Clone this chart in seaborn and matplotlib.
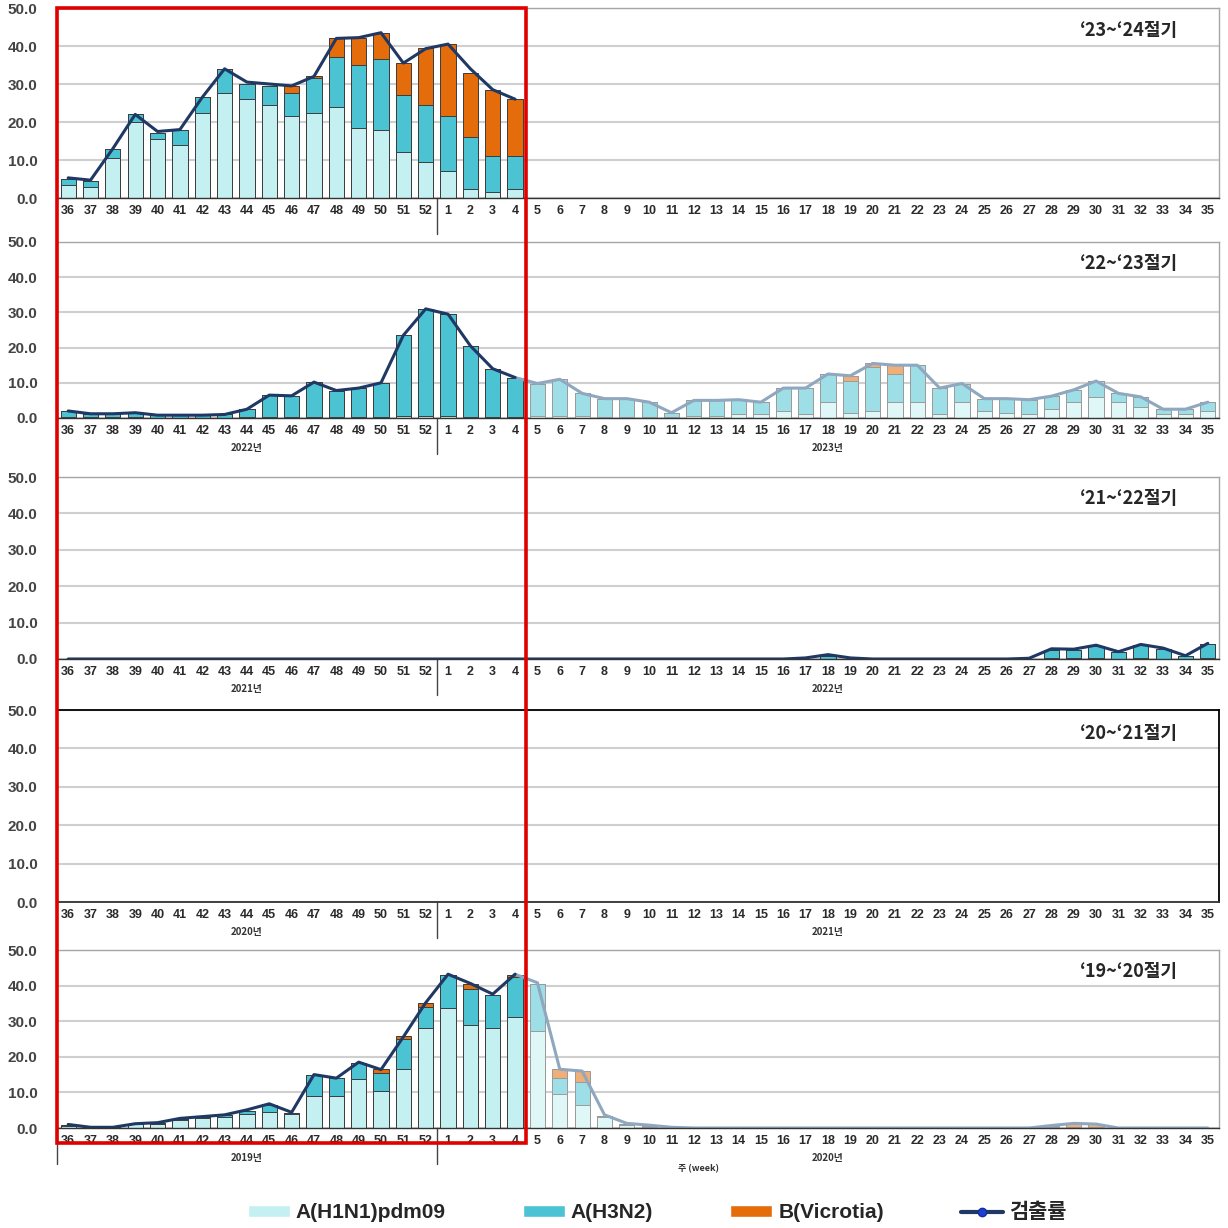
import numpy as np
import pandas as pd
import matplotlib.pyplot as plt
import matplotlib.colors as mcolors
from matplotlib.patches import Patch, Rectangle
from matplotlib.lines import Line2D
from matplotlib.ticker import FormatStrFormatter
import seaborn as sns

# week axis: 36..52 then 1..35
weeks = [str(w) for w in list(range(36, 53)) + list(range(1, 36))]

# '23~'24 season (only weeks 36..4 reported)
h1_2324 = [3.5, 3.0, 10.5, 20.0, 15.5, 14.0, 22.5, 27.5, 26.0, 24.5, 21.5, 22.5, 24.0, 18.5, 18.0, 12.0, 9.5,
           7.0, 2.5, 1.5, 2.5]
h3_2324 = [1.5, 1.5, 2.5, 2.0, 1.5, 4.0, 4.0, 6.5, 4.0, 5.0, 6.0, 9.0, 13.0, 16.5, 18.5, 15.0, 15.0,
           14.5, 13.5, 9.5, 8.5]
b_2324 = [0, 0, 0, 0, 0, 0, 0, 0, 0, 0, 2.0, 0.5, 5.0, 7.0, 7.0, 8.5, 15.0,
          19.0, 17.0, 17.5, 15.0]
rate_2324 = [5.3, 4.7, 13.0, 22.0, 17.5, 18.0, 26.5, 34.0, 30.5, 30.0, 29.5, 32.0, 42.0, 42.2, 43.5, 35.5, 39.3,
             40.5, 34.0, 28.5, 26.0]

# '22~'23 season
h1_2223 = [0.3, 0.2, 0.2, 0.2, 0.1, 0.1, 0.1, 0.1, 0.2, 0.3, 0.3, 0.4, 0.3, 0.3, 0.3, 0.5, 0.6,
           0.5, 0.4, 0.3, 0.3, 0.5, 0.5, 0.5, 0.3, 0.3, 0.3, 0.2, 0.5, 0.5, 1.0, 1.0, 2.0, 1.0, 4.5, 1.5,
           2.0, 4.5, 4.5, 1.0, 4.5, 2.0, 1.5, 1.0, 2.5, 4.5, 6.0, 4.5, 3.0, 1.0, 1.0, 2.0]
h3_2223 = [1.7, 1.0, 1.0, 1.3, 0.7, 0.7, 0.7, 0.9, 2.3, 6.2, 6.0, 9.8, 7.5, 8.2, 9.7, 23.0, 30.4,
           29.0, 20.1, 13.7, 11.2, 9.3, 10.5, 6.5, 5.2, 5.2, 4.2, 1.3, 4.5, 4.5, 4.2, 3.5, 6.5, 7.5, 8.0, 9.0,
           12.5, 8.0, 10.5, 7.5, 5.3, 3.5, 4.0, 4.2, 3.7, 3.5, 4.5, 2.5, 3.0, 1.5, 1.5, 2.5]
b_2223 = [0, 0, 0, 0, 0, 0, 0, 0, 0, 0, 0, 0, 0, 0, 0, 0, 0,
          0, 0, 0, 0, 0, 0, 0, 0, 0, 0, 0, 0, 0, 0, 0, 0, 0, 0, 1.5,
          1.0, 2.5, 0, 0, 0, 0, 0, 0, 0, 0, 0, 0, 0, 0, 0, 0]
rate_2223 = [2.0, 1.2, 1.2, 1.5, 0.8, 0.8, 0.8, 1.0, 2.5, 6.5, 6.3, 10.2, 7.8, 8.5, 10.0, 23.5, 31.0,
             29.5, 20.5, 14.0, 11.5, 9.8, 11.0, 7.0, 5.5, 5.5, 4.5, 1.5, 5.0, 5.0, 5.2, 4.5, 8.5, 8.5, 12.5, 12.0,
             15.5, 15.0, 15.0, 8.5, 9.8, 5.5, 5.5, 5.2, 6.2, 8.0, 10.5, 7.0, 6.0, 2.5, 2.5, 4.5]

# '21~'22 season
h1_2122 = [0, 0, 0, 0, 0, 0, 0, 0, 0, 0, 0, 0, 0, 0, 0, 0, 0,
           0, 0, 0, 0, 0, 0, 0, 0, 0, 0, 0, 0, 0, 0, 0, 0, 0, 0, 0,
           0, 0, 0, 0, 0, 0, 0, 0, 0.2, 0.2, 0.2, 0.1, 0.2, 0.1, 0.1, 0.2]
h3_2122 = [0, 0, 0, 0, 0, 0, 0, 0, 0, 0, 0, 0, 0, 0, 0, 0, 0,
           0, 0, 0, 0, 0, 0, 0, 0, 0, 0, 0, 0, 0, 0, 0, 0, 0, 0.8, 0,
           0, 0, 0, 0, 0, 0, 0, 0, 2.3, 2.2, 3.4, 1.7, 3.6, 2.7, 0.6, 3.9]
b_2122 = [0, 0, 0, 0, 0, 0, 0, 0, 0, 0, 0, 0, 0, 0, 0, 0, 0,
          0, 0, 0, 0, 0, 0, 0, 0, 0, 0, 0, 0, 0, 0, 0, 0, 0, 0, 0,
          0, 0, 0, 0, 0, 0, 0, 0, 0, 0, 0, 0, 0, 0, 0, 0]
rate_2122 = [0, 0, 0, 0, 0, 0, 0, 0, 0, 0, 0, 0, 0, 0, 0, 0, 0,
             0, 0, 0, 0, 0, 0, 0, 0, 0, 0, 0, 0, 0, 0, 0, 0, 0.3, 1.2, 0.3,
             0, 0, 0, 0, 0, 0, 0, 0.2, 2.8, 2.7, 3.8, 2.0, 4.0, 3.0, 0.9, 4.3]

# '20~'21 season (no detections)
h1_2021 = [0, 0, 0, 0, 0, 0, 0, 0, 0, 0, 0, 0, 0, 0, 0, 0, 0,
           0, 0, 0, 0, 0, 0, 0, 0, 0, 0, 0, 0, 0, 0, 0, 0, 0, 0, 0,
           0, 0, 0, 0, 0, 0, 0, 0, 0, 0, 0, 0, 0, 0, 0, 0]
h3_2021 = list(h1_2021)
b_2021 = list(h1_2021)
rate_2021 = list(h1_2021)

# '19~'20 season
h1_1920 = [0.5, 0.1, 0.1, 1.0, 1.2, 2.2, 2.8, 3.0, 4.0, 4.5, 4.0, 9.0, 9.0, 13.7, 10.3, 16.5, 28.0,
           33.7, 29.0, 28.0, 31.3, 27.2, 9.5, 6.5, 3.0, 0.8, 0.4, 0.1, 0, 0, 0, 0, 0, 0, 0, 0,
           0, 0, 0, 0, 0, 0, 0, 0, 0.2, 0.4, 0.3, 0, 0, 0, 0, 0]
h3_1920 = [0.4, 0.1, 0.1, 0.2, 0.3, 0.4, 0.4, 0.6, 0.9, 2.0, 0.3, 5.8, 5.0, 4.6, 5.2, 8.5, 6.0,
           9.3, 10.0, 9.5, 11.2, 13.3, 4.5, 6.5, 0.5, 0.3, 0.2, 0, 0, 0, 0, 0, 0, 0, 0, 0,
           0, 0, 0, 0, 0, 0, 0, 0, 0, 0, 0, 0, 0, 0, 0, 0]
b_1920 = [0, 0, 0, 0, 0, 0, 0, 0, 0, 0, 0, 0.2, 0, 0, 1.0, 0.8, 1.0,
          0, 1.5, 0, 0.5, 0, 2.5, 3.0, 0, 0, 0, 0, 0, 0, 0, 0, 0, 0, 0, 0,
          0, 0, 0, 0, 0, 0, 0, 0, 0.4, 0.8, 0.7, 0, 0, 0, 0, 0]
rate_1920 = [1.0, 0.2, 0.2, 1.2, 1.5, 2.7, 3.2, 3.7, 5.1, 6.8, 4.4, 15.0, 14.0, 18.5, 16.4, 25.6, 35.2,
             43.2, 40.6, 37.6, 43.2, 40.8, 16.5, 16.0, 3.7, 1.3, 0.8, 0.2, 0, 0, 0, 0, 0, 0, 0, 0,
             0, 0, 0, 0, 0, 0, 0, 0, 0.7, 1.3, 1.1, 0, 0, 0, 0, 0]

C_H1 = '#c4f0f1'
C_H3 = '#4cc3d3'
C_B = '#e46c0a'
C_LINE = '#1f3864'
C_FADE = '#8fa7bf'

sns.set_style('white')
plt.rcParams['font.family'] = ['Liberation Sans', 'Noto Sans CJK KR', 'DejaVu Sans']

W = 1228
fig = plt.figure(figsize=(12.28, 12.28), dpi=100)
pos = np.arange(len(weeks))
N_DARK = 21  # weeks 36..4


def pad(vals):
    return list(vals) + [0] * (len(weeks) - len(vals))


def lighten(c, amt=0.5):
    rgb = np.array(mcolors.to_rgb(c))
    return tuple(rgb + (1 - rgb) * amt)


def draw_panel(top, bottom, h1, h3, b, rate, title, years, fade, black=False, last=False):
    ax = fig.add_axes([57 / W, 1 - bottom / W, (1219 - 57) / W, (bottom - top) / W])
    hpx = bottom - top
    df = pd.DataFrame({'pos': pos, 'h1': pad(h1), 'h3': pad(h3), 'b': pad(b)})
    df['h13'] = df['h1'] + df['h3']
    df['tot'] = df['h13'] + df['b']
    for col, c in [('tot', C_B), ('h13', C_H3), ('h1', C_H1)]:
        sns.barplot(data=df, x='pos', y=col, native_scale=True, width=0.68, color=c,
                    saturation=1, edgecolor='#3c3c3c', linewidth=0.7, errorbar=None, ax=ax)
    if fade:
        for p in ax.patches:
            if p.get_x() + p.get_width() / 2 > N_DARK - 0.5:
                p.set_facecolor(lighten(p.get_facecolor(), 0.45))
                p.set_edgecolor('#9a9a9a')

    if max(rate) > 0:
        if len(rate) == N_DARK or not fade:
            sns.lineplot(x=pos[:len(rate)], y=rate, color=C_LINE, lw=2.2, ax=ax)
        else:
            sns.lineplot(x=pos[N_DARK - 1:], y=rate[N_DARK - 1:], color=C_FADE, lw=2.2, ax=ax)
            sns.lineplot(x=pos[:N_DARK], y=rate[:N_DARK], color=C_LINE, lw=2.2, ax=ax)

    ax.set_xlim(-0.5, len(weeks) - 0.5)
    ax.set_ylim(0, 50)
    ax.set_yticks([0, 10, 20, 30, 40, 50])
    ax.yaxis.set_major_formatter(FormatStrFormatter('%.1f'))
    ax.yaxis.grid(True, color='#cfcfcf', lw=1.5)
    ax.set_axisbelow(True)
    ax.set_xlabel('')
    ax.set_ylabel('')
    ax.set_xticks(pos, labels=weeks)
    ax.set_xticks(np.arange(-0.5, len(weeks), 1), minor=True)
    ax.tick_params(axis='x', which='major', length=0, pad=5, labelsize=9, labelcolor='#2a2a2a')
    ax.tick_params(axis='x', which='minor', length=16, width=0.8, color='#555555')
    ax.tick_params(axis='y', length=0, pad=14, labelsize=11, labelcolor='#444444')
    for t in ax.get_xticklabels() + ax.get_yticklabels():
        t.set_fontweight('bold')
    for s in ax.spines.values():
        s.set_color('#000000' if black else '#a6a6a6')
        s.set_linewidth(1.3 if black else 1.0)
    ax.spines['bottom'].set_color('#333333')

    ax.text(0.965, 0.88, title, transform=ax.transAxes, ha='right', va='center',
            fontsize=13, fontweight='bold', family=['Noto Sans CJK KR'])

    tr = ax.get_xaxis_transform()
    ax.plot([16.5, 16.5], [0, -36 / hpx], transform=tr, color='#444444', lw=1, clip_on=False)
    if years:
        for xc, yr in zip([8, 34], years):
            ax.text(xc, -30 / hpx, yr, transform=tr, ha='center', va='center',
                    fontsize=7, fontweight='bold', color='#333333', family=['Noto Sans CJK KR'])
    if last:
        ax.plot([-0.5, -0.5], [0, -36 / hpx], transform=tr, color='#444444', lw=1, clip_on=False)
        ax.text(28.2, -41 / hpx, '주 (week)', transform=tr, ha='center', va='center',
                fontsize=6.5, fontweight='bold', color='#333333', family=['Noto Sans CJK KR'])
    return ax


ax1 = draw_panel(8, 198, h1_2324, h3_2324, b_2324, rate_2324, '\u201823~\u201824절기', None, False)
ax2 = draw_panel(242, 418, h1_2223, h3_2223, b_2223, rate_2223, '\u201822~\u201823절기',
                 ['2022년', '2023년'], True)
ax3 = draw_panel(477, 659, h1_2122, h3_2122, b_2122, rate_2122, '\u201821~\u201822절기',
                 ['2021년', '2022년'], False)
ax4 = draw_panel(710, 902, h1_2021, h3_2021, b_2021, rate_2021, '\u201820~\u201821절기',
                 ['2020년', '2021년'], False, black=True)
ax5 = draw_panel(950, 1128, h1_1920, h3_1920, b_1920, rate_1920, '\u201819~\u201820절기',
                 ['2019년', '2020년'], True, last=True)

# red highlight box over weeks 36..4 across all seasons
inv = fig.transFigure.inverted()
x0, y1 = inv.transform(ax1.transData.transform((-0.5, 50)))
x1, _ = inv.transform(ax1.transData.transform((N_DARK - 0.5, 50)))
_, y0 = inv.transform(ax5.transData.transform((0, 0)))
y0 -= 15 / W
fig.add_artist(Rectangle((x0, y0), x1 - x0, y1 - y0, transform=fig.transFigure,
                         fill=False, edgecolor='#e00000', lw=2.6, zorder=10))

handles = [Patch(facecolor=C_H1), Patch(facecolor=C_H3), Patch(facecolor=C_B),
           Line2D([], [], color=C_LINE, lw=3, marker='o', markersize=6,
                  markerfacecolor='#1f3fd0', markeredgecolor='#1030a0')]
labels = ['A(H1N1)pdm09', 'A(H3N2)', 'B(Vicrotia)', '검출률']
fig.legend(handles, labels, loc='center', bbox_to_anchor=(0.535, 0.0125), ncol=4, frameon=False,
           prop={'weight': 'bold', 'size': 15, 'family': ['Liberation Sans', 'Noto Sans CJK KR']},
           handlelength=2.0, handleheight=0.55, handletextpad=0.3, columnspacing=3.7)

fig.savefig('out.png', dpi=100, facecolor='white')
